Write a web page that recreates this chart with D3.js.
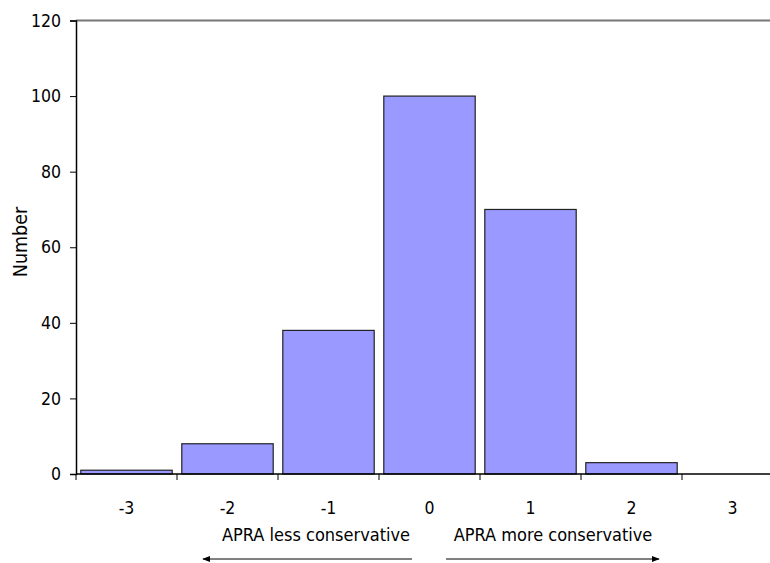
<!DOCTYPE html>
<html><head><meta charset="utf-8">
<script src="https://cdn.jsdelivr.net/npm/d3@7"></script>
<style>
html,body{margin:0;padding:0;background:#fff;}
svg text{font-family:'DejaVu Sans Condensed','DejaVu Sans',sans-serif;font-stretch:condensed;fill:#000;}
</style></head>
<body>
<svg id="chart" width="770" height="563"></svg>
<script>
const categories = ["-3","-2","-1","0","1","2","3"];
const counts = [1, 8, 38, 100, 70, 3, 0];
const yTicks = [0, 20, 40, 60, 80, 100, 120];
const yLabel = "Number";
const leftNote = "APRA less conservative";
const rightNote = "APRA more conservative";

const svg = d3.select("#chart");
const x = d3.scaleBand().domain(categories).range([76, 783]).paddingInner(0.095).paddingOuter(0.0475);
const y = d3.scaleLinear().domain([0, 120]).range([474, 20.5]);

// top border
svg.append("line").attr("x1", 76).attr("x2", 770).attr("y1", y(120)).attr("y2", y(120))
  .attr("stroke", "#777").attr("stroke-width", 2);

// bars
svg.selectAll("rect.bar").data(categories.map((c,i)=>({c, v: counts[i]})).filter(d=>d.v>0))
  .enter().append("rect").attr("class","bar")
  .attr("x", d => x(d.c)).attr("width", x.bandwidth())
  .attr("y", d => y(d.v)).attr("height", d => y(0) - y(d.v))
  .attr("fill", "#9999FF").attr("stroke", "#222").attr("stroke-width", 1.2);

// y axis
const yAxis = d3.axisLeft(y).tickValues(yTicks).tickSize(6).tickPadding(9);
const gy = svg.append("g").attr("transform", "translate(76,0)").call(yAxis);
gy.attr("font-size", null).attr("font-family", null);
gy.select(".domain").attr("stroke", "#000").attr("stroke-width", 1.5);
gy.selectAll(".tick line").attr("stroke", "#000");
gy.selectAll(".tick text").style("font-size", "17.5px");

// x axis line and boundary ticks
svg.append("line").attr("x1", 76).attr("x2", 770).attr("y1", y(0)).attr("y2", y(0))
  .attr("stroke", "#000").attr("stroke-width", 1.5);
const step = x.step();
const boundaries = categories.map(c => x(c) - x.paddingOuter() * step);
svg.selectAll("line.xt").data(boundaries).enter().append("line").attr("class","xt")
  .attr("x1", d=>d).attr("x2", d=>d).attr("y1", y(0)).attr("y2", y(0) + 6)
  .attr("stroke", "#000").attr("stroke-width", 1);
svg.selectAll("text.xl").data(categories).enter().append("text").attr("class","xl")
  .attr("x", d => x(d) + x.bandwidth()/2).attr("y", 514)
  .attr("text-anchor", "middle").style("font-size", "17.5px").text(d => d);

// y label
svg.append("text").attr("transform", "translate(27,242) rotate(-90)")
  .attr("text-anchor", "middle").style("font-size", "19.5px").text(yLabel);

// annotations
svg.append("text").attr("x", 316).attr("y", 541).attr("text-anchor", "middle").style("font-size", "18px").text(leftNote);
svg.append("text").attr("x", 553).attr("y", 541).attr("text-anchor", "middle").style("font-size", "18px").text(rightNote);

// arrows
const defs = svg.append("defs");
defs.append("marker").attr("id", "ah").attr("viewBox", "0 0 10 10").attr("refX", 9).attr("refY", 5)
  .attr("markerWidth", 8).attr("markerHeight", 8).attr("markerUnits", "userSpaceOnUse").attr("orient", "auto")
  .append("path").attr("d", "M0,1L10,5L0,9Z").attr("fill", "#000");
svg.append("line").attr("x1", 412).attr("x2", 203).attr("y1", 559).attr("y2", 559)
  .attr("stroke", "#000").attr("stroke-width", 1).attr("marker-end", "url(#ah)");
svg.append("line").attr("x1", 446).attr("x2", 659).attr("y1", 559).attr("y2", 559)
  .attr("stroke", "#000").attr("stroke-width", 1).attr("marker-end", "url(#ah)");
</script>
</body></html>
